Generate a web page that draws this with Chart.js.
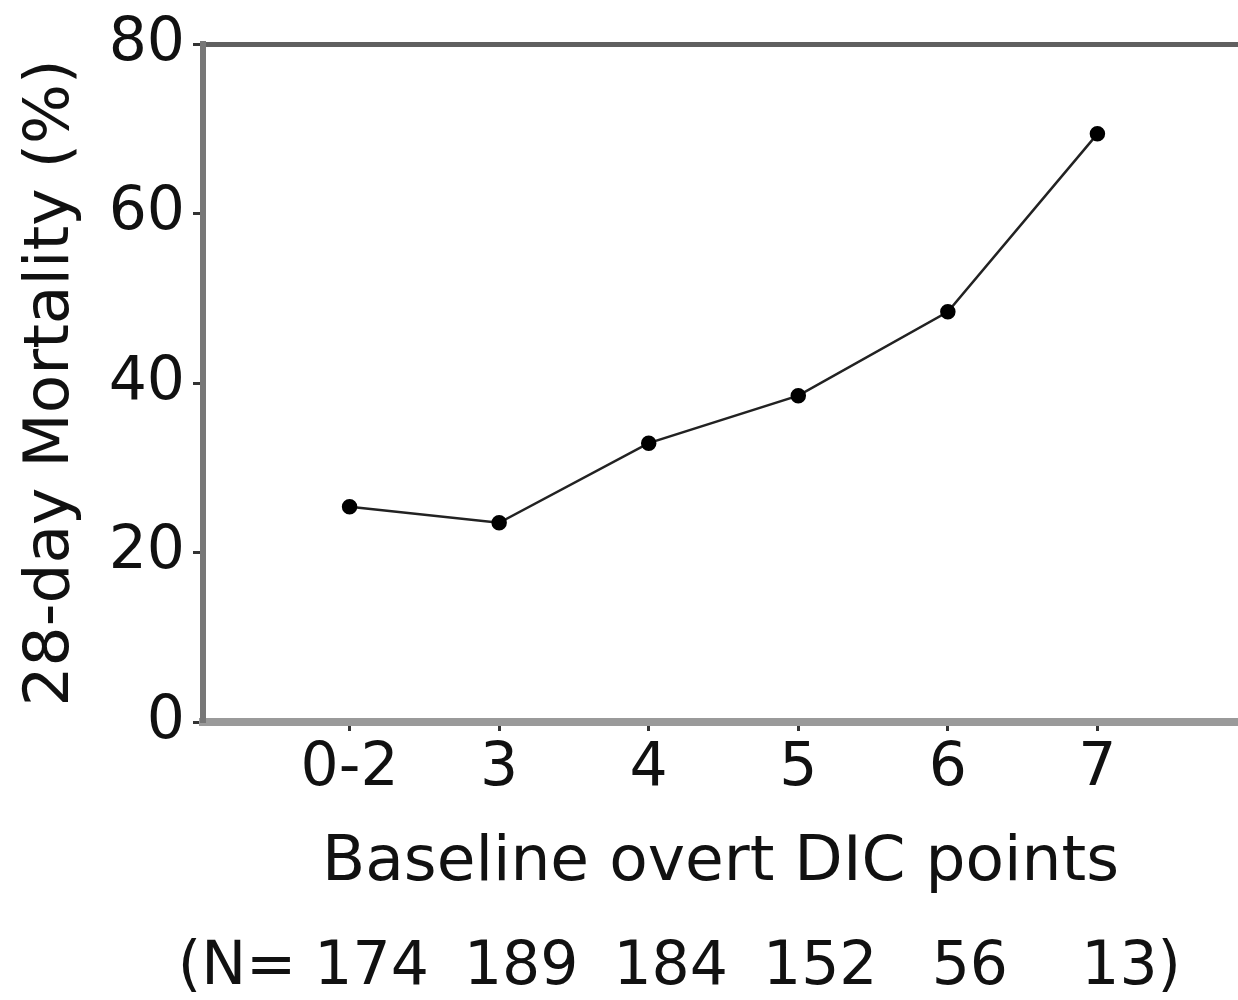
<!DOCTYPE html>
<html>
<head>
<meta charset="utf-8">
<script src="https://cdn.jsdelivr.net/npm/chart.js@4.4.0/dist/chart.umd.min.js"></script>
<style>
  html, body { margin: 0; padding: 0; background: #fff; }
  #wrap { width: 1238px; height: 1000px; }
</style>
</head>
<body>
<div id="wrap"><canvas id="mortality" width="1238" height="1000"></canvas></div>
<script>
// data
const categories = ['0-2', '3', '4', '5', '6', '7'];
const mortality = [25.4, 23.5, 32.9, 38.5, 48.4, 69.4];
const nValues = ['174', '189', '184', '152', '56', '13'];
const yTicks = [0, 20, 40, 60, 80];

const fontFamily = "'DejaVu Sans', 'Liberation Sans', Arial, sans-serif";
const textColor = '#111';

const points = categories.map(function (c, i) {
    return { x: i, y: mortality[i] };
});

// the "(N= ...)" row under the axis title
const nRowPlugin = {
    id: 'nRow',
    afterDraw: function (chart) {
        const ctx = chart.ctx;
        const xs = chart.scales.x;
        const y = 968;
        ctx.save();
        ctx.font = '60px ' + fontFamily;
        ctx.fillStyle = textColor;
        ctx.textBaseline = 'middle';
        ctx.textAlign = 'center';
        let firstLeft = 0, lastRight = 0;
        nValues.forEach(function (n, i) {
            const px = xs.getPixelForValue(i) + 22;
            ctx.fillText(n, px, y);
            const w = ctx.measureText(n).width;
            if (i === 0) firstLeft = px - w / 2;
            if (i === nValues.length - 1) lastRight = px + w / 2;
        });
        ctx.textAlign = 'right';
        ctx.fillText('(N=', firstLeft - 18, y);
        ctx.textAlign = 'left';
        ctx.fillText(')', lastRight, y);
        ctx.restore();
    }
};

const mortalityChart = new Chart(document.getElementById('mortality'), {
    type: 'line',
    data: {
        datasets: [{
            label: '28-day Mortality',
            data: points,
            borderColor: '#222',
            borderWidth: 2.5,
            pointRadius: 6.5,
            pointHoverRadius: 6.5,
            pointBackgroundColor: '#000',
            pointBorderColor: '#000',
            tension: 0
        }]
    },
    options: {
        responsive: false,
        animation: false,
        layout: { autoPadding: false, padding: 0 },
        plugins: {
            legend: { display: false },
            tooltip: { enabled: false }
        },
        scales: {
            x: {
                type: 'linear',
                position: 'bottom',
                min: -0.98,
                max: 5.94,
                afterBuildTicks: function (scale) {
                    scale.ticks = categories.map(function (c, i) { return { value: i }; });
                },
                afterFit: function (scale) { scale.height = 278; },
                ticks: {
                    callback: function (v) { return categories[v]; },
                    font: { size: 60, family: fontFamily },
                    color: textColor,
                    padding: 2,
                    maxRotation: 0
                },
                grid: {
                    drawOnChartArea: false,
                    drawTicks: true,
                    tickLength: 9,
                    tickWidth: 3,
                    tickColor: '#333'
                },
                border: { display: true, color: '#9a9a9a', width: 8 },
                title: {
                    display: true,
                    text: 'Baseline overt DIC points',
                    font: { size: 63, family: fontFamily },
                    color: textColor,
                    padding: { top: 0, bottom: 99 }
                }
            },
            xTop: {
                type: 'linear',
                position: 'top',
                display: true,
                min: 0,
                max: 1,
                afterFit: function (scale) { scale.height = 38; },
                ticks: { display: false },
                grid: { display: false, drawTicks: false },
                border: { display: true, color: '#606060', width: 5 }
            },
            y: {
                min: 0,
                max: 80,
                afterBuildTicks: function (scale) {
                    scale.ticks = yTicks.map(function (v) { return { value: v }; });
                },
                afterFit: function (scale) { scale.width = 203; },
                ticks: {
                    font: { size: 60, family: fontFamily },
                    color: textColor,
                    padding: 8
                },
                grid: {
                    drawOnChartArea: false,
                    drawTicks: true,
                    tickLength: 10,
                    tickWidth: 3,
                    tickColor: '#333'
                },
                border: { display: true, color: '#777', width: 6 },
                title: {
                    display: true,
                    text: '28-day Mortality (%)',
                    font: { size: 63, family: fontFamily },
                    color: textColor,
                    padding: { top: 14, bottom: 0 }
                }
            }
        }
    },
    plugins: [nRowPlugin]
});
</script>
</body>
</html>
